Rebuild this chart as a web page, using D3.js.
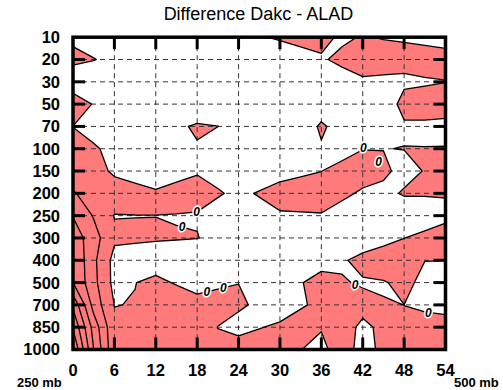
<!DOCTYPE html>
<html><head><meta charset="utf-8">
<script src="https://cdn.jsdelivr.net/npm/d3@7"></script>
<style>body{margin:0;background:#fff}svg{display:block}</style>
</head><body>
<svg id="c" width="503" height="390"></svg>
<script>
const title = "Difference Dakc - ALAD";
const hours = [0,3,6,9,12,15,18,21,24,27,30,33,36,39,42,45,48,51,54];
const xTicks = [0,6,12,18,24,30,36,42,48,54];
const levels = ["10","20","30","50","70","100","150","200","250","300","400","500","700","850","1000"];
const leftNote = "250 mb", rightNote = "500 mb";

// difference values per pressure level (one value per 3-hour step)
const lvl10   = [0.22,0.66,1.0,1.0,1.0,1.0,1.0,1.0,1.0,0.1,-0.15,-0.39,-0.4,0.234,-0.1,0.083,0.125,0.42,0.345];
const lvl20   = [-0.3,-0.05,0.335,1.0,1.0,1.0,1.0,1.0,1.0,1.0,0.8,0.5,0.15,-0.31,-0.77,-0.67,-0.42,-0.72,-0.345];
const lvl30   = [0.9,1.0,1.0,1.0,1.0,1.0,1.0,1.0,1.0,1.0,1.0,1.0,1.0,0.6,0.23,0.3,0.26,0.18,0.03];
const lvl50   = [-0.85,0.094,0.9,1.0,1.0,1.0,0.92,1.0,1.0,1.0,1.0,1.0,0.38,0.8,1.0,0.97,-0.5,-0.77,-0.71];
const lvl70   = [0.01,0.45,0.6,1.0,1.0,0.2,-0.15,-0.01,0.33,1.0,1.0,0.4,-0.1,0.27,0.8,0.6,0.2,0.3,0.4];
const lvl100  = [-0.3,-0.15,0.35,0.8,1.0,0.7,0.096,0.6,1.0,1.0,1.0,0.8,0.064,0.47,0.02,0.03,-0.03,-0.03,-0.05];
const lvl150  = [-0.43,-0.31,0.133,0.53,1.0,0.45,0.088,0.425,0.8,0.81,0.37,0.176,0.015,-0.4,-0.4,-0.3,0.47,-0.07,-0.3];
const lvl200  = [-1.1,-0.5,-0.4,-0.45,-0.22,-0.45,-0.4,-0.12,0.27,-0.1,-0.4,-0.5,-0.5,-0.189,0.126,0.4,-0.15,-0.065,-0.053];
const lvl250  = [-1.95,-0.925,0.03,0.014,0.005,0.039,0.082,0.51,0.7,0.49,0.113,0.1,0.068,0.384,0.6,0.8,1.0,0.4,0.2];
const lvl300  = [-2.6,-1.4,-0.16,-0.126,-0.066,-0.05,-0.035,0.315,1.0,1.0,1.0,1.0,1.0,0.8,1.0,0.47,0.012,-0.19,-0.4];
const lvl400  = [-2.95,-1.21,0.30,0.4,0.37,0.5,1.0,1.0,1.0,1.0,1.0,0.7,0.4,0.2,-0.5,-0.8,-0.6,-0.016,-0.005];
const lvl500  = [-3.0,-1.28,0.28,0.013,-0.174,0.061,0.25,0.204,0.015,0.4,0.7,0.06,-0.4,-0.12,0.16,0.089,-0.3,0.3,0.4];
const lvl700  = [-4.8,-1.6,0.02,-0.03,-0.4,-0.49,-0.23,-0.5,-0.2,0.226,0.8,0.15,-0.305,-0.4,-0.5,-0.055,0.003,0.225,0.39];
const lvl850  = [-5.9,-2.6,-0.18,-0.4,-0.5,-0.6,-0.68,0.021,0.445,0.08,-0.253,-0.64,-0.065,-0.676,0.333,-0.333,-0.097,-0.5,-0.5];
const lvl1000 = [-7.0,-3.0,-0.2,-0.45,-0.5,-0.5,-0.5,-0.3,-0.7,-0.92,-0.6,-0.02,0.26,-0.53,0.4,-0.245,-0.5,-0.5,-0.5];
const rows = [lvl10,lvl20,lvl30,lvl50,lvl70,lvl100,lvl150,lvl200,lvl250,lvl300,lvl400,lvl500,lvl700,lvl850,lvl1000];

const contourLevels = [0,-1,-2,-3,-4,-5,-6];
// "0" contour labels: [hour, level index]
const zeroLabelHours = [42.1,44.3,17.9,15.8,19.4,21.8,40.9,51.5];
const zeroLabelLevels = [4.98,5.58,7.83,8.52,11.41,11.22,11.1,12.37];

const L = 73, R = 445.5, T = 37.2, B = 349.5;
const FONT = "'Liberation Sans', Arial, Helvetica, sans-serif";
const RED = "#ff7a7a";

const x = d3.scaleLinear().domain([0, 54]).range([L, R]);
const y = d3.scaleLinear().domain([0, levels.length - 1]).range([T, B]);
const svg = d3.select("#c");
svg.append("rect").attr("width", 503).attr("height", 390).attr("fill", "#fff");
svg.append("defs").append("clipPath").attr("id", "clip")
  .append("rect").attr("x", L).attr("y", T).attr("width", R - L).attr("height", B - T);

const nx = hours.length, ny = levels.length;
const values = [];
rows.forEach(r => r.forEach(v => values.push(-v)));   // negate: "above" = negative difference
const step = hours[1] - hours[0];
const gen = d3.contours().size([nx, ny]);
const proj = d3.geoTransform({
  point: function (px, py) { this.stream.point(x(hours[0] + (px - 0.5) * step), y(py - 0.5)); }
});
const path = d3.geoPath(proj);

const g = svg.append("g").attr("clip-path", "url(#clip)");
g.append("rect").attr("x", L).attr("y", T).attr("width", R - L).attr("height", B - T).attr("fill", "#fff");

// shaded negative area
g.append("path").attr("d", path(gen.contour(values, 0))).attr("fill", RED).attr("stroke", "none");

// dashed grid
const grid = svg.append("g").attr("stroke", "#333").attr("stroke-width", 1).attr("stroke-dasharray", "5,4");
xTicks.slice(1, -1).forEach(t => grid.append("line").attr("x1", x(t)).attr("x2", x(t)).attr("y1", T).attr("y2", B));
levels.forEach((lv, i) => { if (i > 0 && i < levels.length - 1)
  grid.append("line").attr("x1", L).attr("x2", R).attr("y1", y(i)).attr("y2", y(i)); });

// contour lines
const lines = svg.append("g").attr("clip-path", "url(#clip)");
contourLevels.forEach(lv => {
  lines.append("path").attr("d", path(gen.contour(values, -lv)))
    .attr("fill", "none").attr("stroke", "#000").attr("stroke-width", 1.3).attr("stroke-linejoin", "round");
});

// contour labels
zeroLabelHours.forEach((h, i) => {
  svg.append("text").attr("x", x(h)).attr("y", y(zeroLabelLevels[i])).attr("dy", "0.35em")
    .attr("text-anchor", "middle").attr("font-family", FONT).attr("font-size", 12)
    .attr("font-weight", "bold").attr("font-style", "italic")
    .attr("stroke", "#fff").attr("stroke-width", 3).attr("paint-order", "stroke")
    .attr("fill", "#000").text("0");
});

// frame
svg.append("rect").attr("x", L).attr("y", T).attr("width", R - L).attr("height", B - T)
  .attr("fill", "none").attr("stroke", "#000").attr("stroke-width", 3.5);

// ticks
const tk = svg.append("g").attr("stroke", "#000").attr("stroke-width", 3);
xTicks.slice(1, -1).forEach(t => {
  tk.append("line").attr("x1", x(t)).attr("x2", x(t)).attr("y1", B).attr("y2", B - 12);
  tk.append("line").attr("x1", x(t)).attr("x2", x(t)).attr("y1", T).attr("y2", T + 12);
});
levels.forEach((lv, i) => { if (i > 0 && i < levels.length - 1) {
  tk.append("line").attr("x1", L).attr("x2", L + 12).attr("y1", y(i)).attr("y2", y(i));
  tk.append("line").attr("x1", R).attr("x2", R - 12).attr("y1", y(i)).attr("y2", y(i));
}});

// tick labels
levels.forEach((lv, i) => {
  svg.append("text").attr("x", 60).attr("y", y(i)).attr("dy", "0.36em").attr("text-anchor", "end")
    .attr("font-family", FONT).attr("font-size", 16.5).attr("font-weight", "bold").text(lv);
});
xTicks.forEach(t => {
  svg.append("text").attr("x", x(t)).attr("y", 375.5).attr("text-anchor", "middle")
    .attr("font-family", FONT).attr("font-size", 16.5).attr("font-weight", "bold").text(t);
});
svg.append("text").attr("x", 17).attr("y", 386.5).attr("font-family", FONT).attr("font-size", 13)
  .attr("font-weight", "bold").text(leftNote);
svg.append("text").attr("x", 454).attr("y", 386.5).attr("font-family", FONT).attr("font-size", 13)
  .attr("font-weight", "bold").text(rightNote);

// title
svg.append("text").attr("x", 258.5).attr("y", 20).attr("text-anchor", "middle")
  .attr("font-family", FONT).attr("font-size", 18).text(title);
</script>
</body></html>
